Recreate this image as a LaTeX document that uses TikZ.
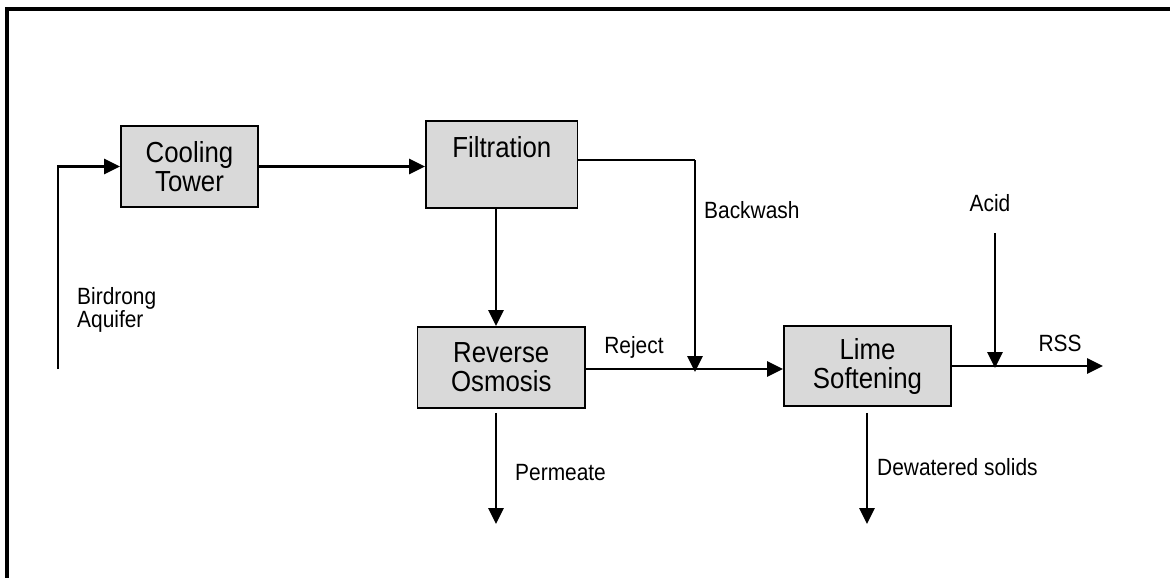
\documentclass[tikz,border=0pt]{standalone}
\usepackage{fontspec}
\setmainfont{Liberation Sans}
\newfontfamily\tallsans[FakeStretch=0.89]{Liberation Sans}
\usetikzlibrary{arrows.meta,calc}
\definecolor{boxgray}{RGB}{217,217,217}
\begin{document}
\begin{tikzpicture}[x=1pt,y=-1pt,
  procbox/.style={draw=black, line width=1.9pt, fill=boxgray, inner sep=0pt,
    font=\tallsans\fontsize{29}{29}\selectfont, align=center},
  flow/.style={line width=2.8pt, -{Triangle[length=16pt,width=15pt]}},
  plain/.style={line width=2.8pt},
  lbl/.style={inner sep=0pt, font=\tallsans\fontsize{23.5}{23}\selectfont, align=left}]
\useasboundingbox (0,0) rectangle (1170,578);
\fill[white] (0,0) rectangle (1170,578);
% frame (top and left edges visible)
\draw[line width=3.2pt] (7,578) -- (7,9) -- (1170,9);

% process boxes
\node[procbox, minimum width=137pt, minimum height=81pt] (ct) at (189.5,166.5) {Cooling\\Tower};
\node[procbox, minimum width=151.5pt, minimum height=87pt] (filt) at (501.75,164.5) {};
\node[font=\tallsans\fontsize{29}{29}\selectfont, inner sep=0pt] (filttxt) at (501.75,147) {Filtration};
\node[procbox, minimum width=167.5pt, minimum height=81pt] (ro) at (501.25,367.5) {Reverse\\Osmosis};
\node[procbox, minimum width=167pt, minimum height=80pt] (lime) at (867.5,366) {Lime\\Softening};

% free ends
\coordinate (inl) at (58,369);
\coordinate (bwc) at (695,160);
\coordinate (bwtip) at (695,372);
\coordinate (acidtop) at (995,233);
\coordinate (acidtip) at (995,368);
\coordinate (rss) at (1103,366);
\coordinate (perm) at (496,524);
\coordinate (dew) at (867,524);

% connectors
\draw[flow] (inl) |- (ct.west);
\draw[flow] (ct.east) -- (ct.east -| filt.west);
\draw[plain] (filt.east |- bwc) -- (bwc);
\draw[flow] (bwc) -- (bwtip);
\draw[flow] (filt.south -| perm) -- (ro.north -| perm);
\draw[flow] (ro.east |- 0,369) -- (lime.west |- 0,369);
\draw[flow] (lime.east) -- (rss);
\draw[flow] (acidtop) -- (acidtip);
\draw[flow] ($(ro.south -| perm)+(0,4)$) -- (perm);
\draw[flow] ($(lime.south -| dew)+(0,6)$) -- (dew);

% labels
\node[lbl, anchor=west] (aq) at (77,310) {Birdrong\\Aquifer};
\node[lbl, anchor=west] (bw) at (704,210) {Backwash};
\node[lbl] (acid) at (990,203) {Acid};
\node[lbl] (rsslbl) at (1060,343) {RSS};
\node[lbl] (rej) at (634,347) {Reject};
\node[lbl, anchor=west] (permlbl) at (515,473) {Permeate};
\node[lbl, anchor=west] (dewlbl) at (877,467) {Dewatered solids};
\end{tikzpicture}
\end{document}
